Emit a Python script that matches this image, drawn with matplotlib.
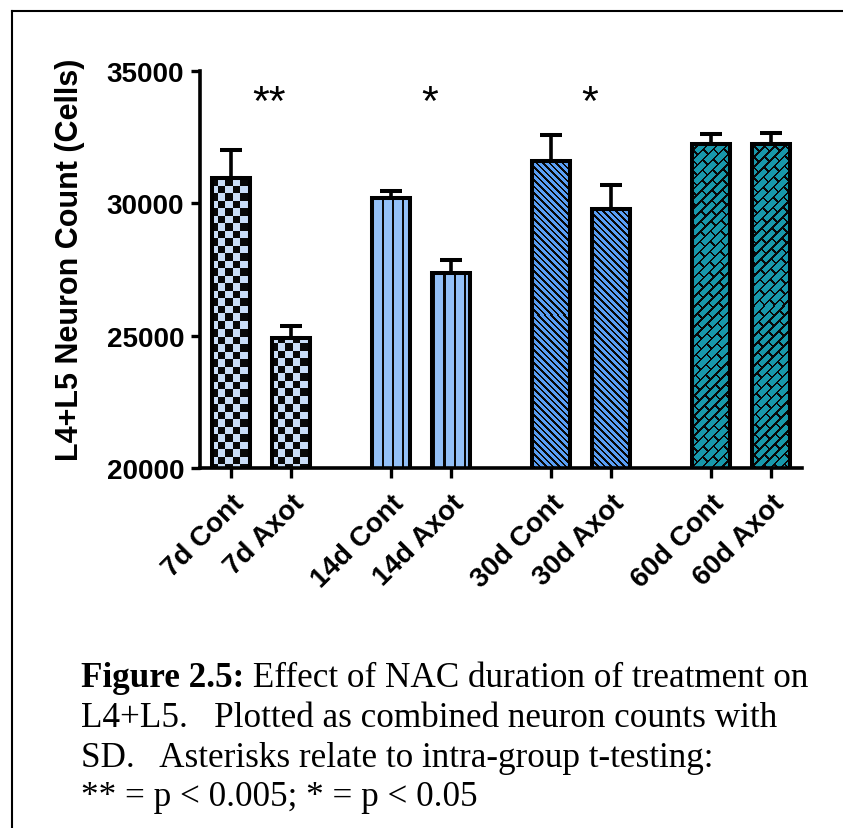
import numpy as np
import matplotlib
matplotlib.use("Agg")
import matplotlib.pyplot as plt
from matplotlib.colors import to_rgb

# data
labels = ["7d Cont", "7d Axot", "14d Cont", "14d Axot",
          "30d Cont", "30d Axot", "60d Cont", "60d Axot"]
counts = [30960, 24920, 30210, 27380, 31600, 29770, 32230, 32250]
sd = [1060, 440, 255, 480, 980, 920, 400, 415]
# significance mark per group (7d, 14d, 30d, 60d)
stars = ["**", "*", "*", ""]

caption_bold = "Figure 2.5:"
caption_lines = [" Effect of NAC duration of treatment on",
                 "L4+L5.   Plotted as combined neuron counts with",
                 "SD.   Asterisks relate to intra-group t-testing:",
                 "** = p < 0.005; * = p < 0.05"]

# pattern / colour per group
patterns = ["checker", "vlines", "diag", "brick"]
fills = ["#c9ddf7", "#93c0f7", "#5a9ff5", "#1898ab"]

W, H = 843, 829
fig = plt.figure(figsize=(W / 100, H / 100), dpi=100)
ax = fig.add_axes([200 / W, 1 - 469 / H, 602 / W, 397 / H])

# bar positions: pairs with a gap between groups
x = []
for g in range(4):
    x += [g * 8 / 3, g * 8 / 3 + 1]
x = np.array(x)
bar_w = 0.633

ax.set_xlim(-0.517, 9.517)
ax.set_ylim(20000, 35000)


def pattern_mask(kind, xx, yy):
    if kind == "checker":
        s = 7.5
        return ((np.floor(xx / s) + np.floor(yy / s)) % 2) == 0
    if kind == "vlines":
        return (xx % 10.3) < 2.2
    if kind == "diag":
        return ((xx - yy) % 6.5) < 2.4
    # brick: rows of bricks running along "/" direction
    a = (xx - yy) / np.sqrt(2)
    b = (xx + yy) / np.sqrt(2)
    hb, lb = 7.0, 15.0
    row = np.floor(b / hb)
    off = (row % 2) * lb / 2
    return ((b % hb) < 1.8) | (((a + off) % lb) < 1.8)


def add_texture(bar, kind, fill):
    x0, w = bar.get_x(), bar.get_width()
    y0 = 20000
    y1 = bar.get_y() + bar.get_height()
    p0 = ax.transData.transform((x0, y0))
    p1 = ax.transData.transform((x0 + w, y1))
    nx = int(round(p1[0] - p0[0]))
    ny = int(round(p1[1] - p0[1]))
    yy, xx = np.mgrid[0:ny, 0:nx].astype(float)
    xx += round(p0[0])
    yy += round(H - p1[1])
    mask = pattern_mask(kind, xx, yy)
    img = np.where(mask[..., None], np.array(to_rgb("#080808")),
                   np.array(to_rgb(fill)))
    im = ax.imshow(img, extent=(x0, x0 + w, y0, y1), origin="upper",
                   interpolation="nearest", aspect="auto", zorder=2)
    im.set_clip_path(bar)


bars = ax.bar(x, counts, width=bar_w, color="white", edgecolor="none", zorder=2)
for i, b in enumerate(bars):
    add_texture(b, patterns[i // 2], fills[i // 2])
ax.bar(x, counts, width=bar_w, fill=False, edgecolor="black", linewidth=2.9, zorder=3)

ax.errorbar(x, counts, yerr=[np.zeros(len(sd)), sd], fmt="none", ecolor="black",
            elinewidth=2.6, capsize=8, capthick=2.9, zorder=1)

for g, s in enumerate(stars):
    if s:
        ax.text(x[2 * g] + 0.64, 33800, s, ha="center", va="center",
                fontsize=31, family="Liberation Sans")

ax.set_xlim(-0.517, 9.517)
ax.set_ylim(20000, 35000)
ax.set_yticks([20000, 25000, 30000, 35000])
ax.set_xticks(x)
ax.set_xticklabels(labels, rotation=45, ha="right", va="top",
                   rotation_mode="anchor", fontweight="bold", fontsize=20,
                   family="Liberation Sans")
for t in ax.get_yticklabels():
    t.set_fontweight("bold")
    t.set_fontsize(20)
    t.set_family("Liberation Sans")
ax.tick_params(axis="y", length=6.5, width=2.4, pad=5)
ax.tick_params(axis="x", length=7.5, width=2.4, pad=8)
for side in ["top", "right"]:
    ax.spines[side].set_visible(False)
for side in ["left", "bottom"]:
    ax.spines[side].set_linewidth(2.6)

fig.text(70 / W, 1 - 260 / H, "L4+L5 Neuron Count (Cells)", rotation=90,
         ha="center", va="center", fontsize=22, fontweight="bold",
         family="Liberation Sans")

# outer frame (only top and left visible in the crop)
fig.add_artist(plt.Line2D([12 / W, 1], [1 - 12 / H, 1 - 12 / H], color="black", lw=1.5))
fig.add_artist(plt.Line2D([12 / W, 12 / W], [0, 1 - 12 / H], color="black", lw=1.5))

# caption
cap_x = 81 / W
base = [687, 727, 767, 806]
renderer = fig.canvas.get_renderer()
tb = fig.text(cap_x, 1 - base[0] / H, caption_bold, fontsize=25.3, fontweight="bold",
              family="Liberation Serif", va="baseline")
bw = tb.get_window_extent(renderer).width
fig.text(cap_x + bw / W, 1 - base[0] / H, caption_lines[0], fontsize=25.3,
         family="Liberation Serif", va="baseline")
for i in range(1, 4):
    fig.text(cap_x, 1 - base[i] / H, caption_lines[i], fontsize=25.3,
             family="Liberation Serif", va="baseline")

fig.savefig("out.png", dpi=100)
